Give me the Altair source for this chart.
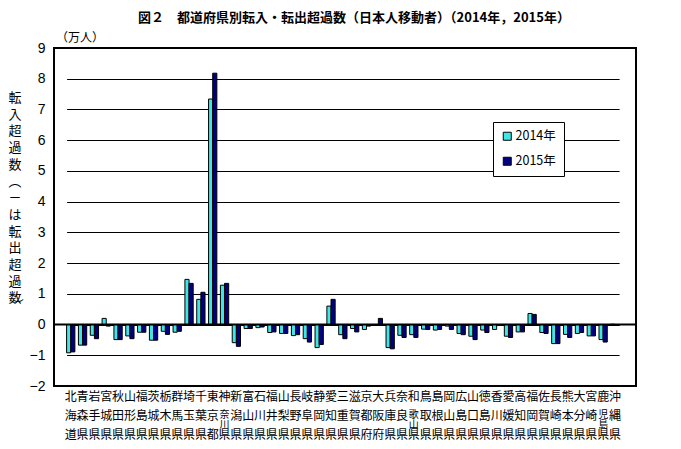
import altair as alt
import pandas as pd

prefs = ["北海道","青森県","岩手県","宮城県","秋田県","山形県","福島県","茨城県","栃木県","群馬県",
         "埼玉県","千葉県","東京都","神奈川県","新潟県","富山県","石川県","福井県","山梨県","長野県",
         "岐阜県","静岡県","愛知県","三重県","滋賀県","京都府","大阪府","兵庫県","奈良県","和歌山県",
         "鳥取県","島根県","岡山県","広島県","山口県","徳島県","香川県","愛媛県","高知県","福岡県",
         "佐賀県","長崎県","熊本県","大分県","宮崎県","鹿児島県","沖縄県"]

v2014 = [-0.92,-0.67,-0.35,0.20,-0.49,-0.37,-0.25,-0.51,-0.22,-0.25,
         1.47,0.82,7.34,1.28,-0.59,-0.13,-0.10,-0.26,-0.29,-0.36,
         -0.46,-0.75,0.60,-0.33,-0.13,-0.16,-0.02,-0.75,-0.35,-0.33,
         -0.15,-0.18,-0.05,-0.29,-0.38,-0.18,-0.16,-0.38,-0.24,0.36,
         -0.26,-0.62,-0.32,-0.29,-0.37,-0.49,0.01]

v2015 = [-0.89,-0.67,-0.46,-0.05,-0.49,-0.46,-0.25,-0.51,-0.32,-0.22,
         1.34,1.05,8.18,1.34,-0.71,-0.13,-0.08,-0.24,-0.29,-0.33,
         -0.57,-0.65,0.82,-0.46,-0.24,-0.05,0.20,-0.79,-0.42,-0.42,
         -0.16,-0.16,-0.16,-0.33,-0.49,-0.26,-0.03,-0.42,-0.24,0.33,
         -0.29,-0.62,-0.42,-0.26,-0.37,-0.57,-0.03]

years = ["2014年", "2015年"]
colors = ["#40E6E6", "#000080"]
y_ticks = list(range(-2, 10))
title_text = "図２　都道府県別転入・転出超過数（日本人移動者）（2014年，2015年）"
unit_text = "（万人）"
ytitle_chars = ["転","入","超","過","数","︵","－","は","転","出","超","過","数"]

JP = "Noto Sans CJK JP"
NUM = "'Liberation Sans Narrow', 'Liberation Sans', sans-serif"

rows = []
for p, a, b in zip(prefs, v2014, v2015):
    rows.append({"pref": p, "year": years[0], "value": a})
    rows.append({"pref": p, "year": years[1], "value": b})
df = pd.DataFrame(rows)

lab = pd.DataFrame({
    "pref": prefs,
    "top": [p[0] for p in prefs],
    "bot": [p[-1] for p in prefs],
    "mid": [p[1] if len(p) == 3 else "" for p in prefs],
    "mids": ["\n".join(p[1:-1]) if len(p) == 4 else "" for p in prefs],
})

xscale = alt.Scale(paddingInner=0.3, paddingOuter=0, range=[12.6, 565.1])
X = alt.X("pref:N", sort=prefs, scale=xscale, axis=None)
yscale = alt.Scale(domain=[-2, 9], nice=False, zero=False)

bars = alt.Chart(df).mark_bar(stroke="black", strokeWidth=1).encode(
    x=X,
    xOffset=alt.XOffset("year:N", sort=years, scale=alt.Scale(paddingInner=0, paddingOuter=0)),
    y=alt.Y("value:Q", scale=yscale,
            axis=alt.Axis(values=y_ticks, grid=True, gridColor="black", gridWidth=1,
                          gridOpacity=1, ticks=False, domain=False, labelPadding=9, labelFontSize=14,
                          labelOverlap=False, labelFont=NUM, labelColor="black", title=None)),
    color=alt.Color("year:N", sort=years, scale=alt.Scale(domain=years, range=colors),
                    legend=alt.Legend(title=None, orient="none", legendX=439, legendY=74,
                                      fillColor="white", strokeColor="black", padding=8,
                                      symbolType="square", symbolSize=64,
                                      symbolStrokeColor="black", symbolStrokeWidth=1,
                                      labelFont=JP, labelFontSize=12.5, labelColor="black",
                                      rowPadding=12, labelOffset=2)),
)

zero = alt.Chart(pd.DataFrame({"v": [0]})).mark_rule(color="black", strokeWidth=2).encode(
    y=alt.Y("v:Q", scale=yscale, axis=None)
)

row1 = alt.Chart(lab).mark_text(font=JP, fontSize=12, baseline="middle", color="black").encode(
    x=X, y=alt.value(349), text="top:N")
row2 = alt.Chart(lab).mark_text(font=JP, fontSize=12, baseline="middle", color="black").encode(
    x=X, y=alt.value(368), text="mid:N")
row2s = alt.Chart(lab).mark_text(font=JP, fontSize=10, lineHeight=10, lineBreak="\n",
                                  baseline="middle", color="black").encode(
    x=X, y=alt.value(367), text="mids:N")
row3 = alt.Chart(lab).mark_text(font=JP, fontSize=12, baseline="middle", color="black").encode(
    x=X, y=alt.value(387), text="bot:N")

ytitle = alt.Chart(pd.DataFrame({"t": ["\n".join(ytitle_chars)]})).mark_text(
    font=JP, fontSize=13, lineHeight=16.7, lineBreak="\n", baseline="top", align="center",
    color="black").encode(x=alt.value(-39), y=alt.value(44), text="t:N")
yclose = alt.Chart(pd.DataFrame({"t": ["︶"]})).mark_text(
    font=JP, fontSize=11, baseline="middle", align="center", color="black").encode(
    x=alt.value(-36), y=alt.value(258), text="t:N")

unit = alt.Chart(pd.DataFrame({"t": [unit_text]})).mark_text(
    font=JP, fontSize=12, baseline="middle", align="left", color="black").encode(
    x=alt.value(2), y=alt.value(-10), text="t:N")

title = alt.Chart(pd.DataFrame({"t": [title_text]})).mark_text(
    font=JP, fontSize=13, fontWeight="bold", baseline="middle", align="center", color="black").encode(
    x=alt.value(300), y=alt.value(-30), text="t:N")

chart = alt.layer(bars, zero, row1, row2, row2s, row3, ytitle, yclose, unit, title).resolve_axis(
    y="independent"
).properties(
    width=582, height=338,
    padding={"left": 46, "top": 40, "right": 30, "bottom": 60},
    autosize=alt.AutoSizeParams(type="none"),
    background="white",
).configure_view(stroke="black", strokeWidth=2)

chart.save("out.html", embed_options={"renderer": "svg", "actions": False})
